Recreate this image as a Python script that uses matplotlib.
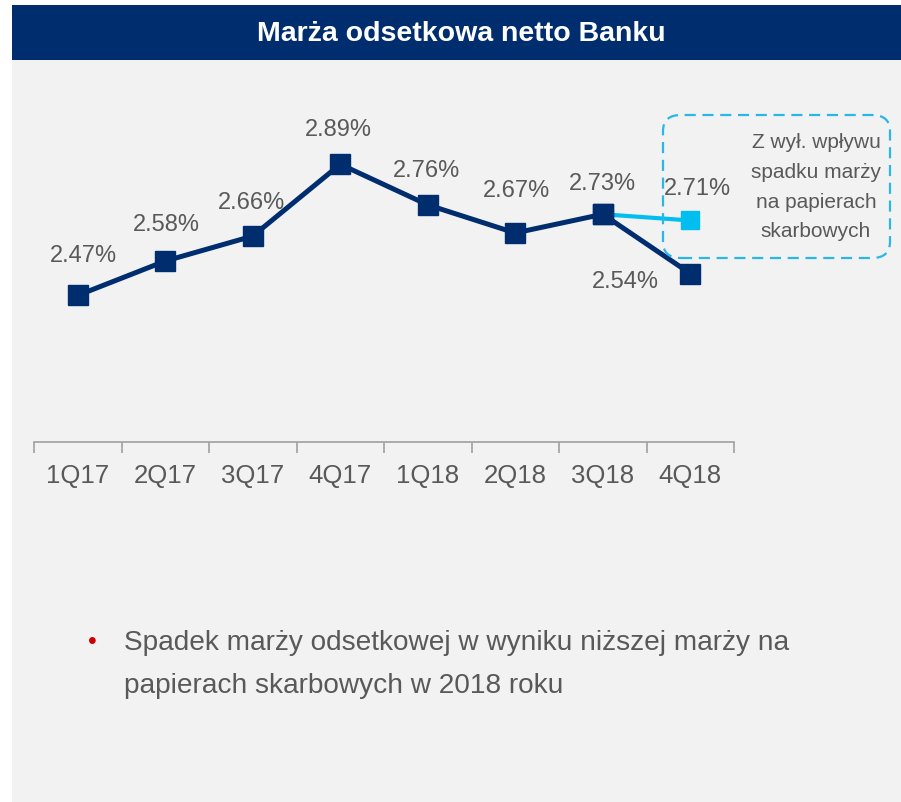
import matplotlib
matplotlib.use("Agg")
import matplotlib.pyplot as plt
from matplotlib.patches import Rectangle, FancyBboxPatch
from matplotlib.ticker import FixedLocator, NullFormatter

plt.rcParams['font.family'] = ['Liberation Sans', 'DejaVu Sans']

# ---- data ----
categories = ["1Q17", "2Q17", "3Q17", "4Q17", "1Q18", "2Q18", "3Q18", "4Q18"]
margin = [2.47, 2.58, 2.66, 2.89, 2.76, 2.67, 2.73, 2.54]
adj_categories = ["3Q18", "4Q18"]
adj_margin = [2.73, 2.71]
title = "Marża odsetkowa netto Banku"
box_lines = ["Z wył. wpływu", "spadku marży", "na papierach", "skarbowych"]
bullet_lines = ["Spadek marży odsetkowej w wyniku niższej marży na",
                "papierach skarbowych w 2018 roku"]

NAVY = "#002D6E"
LIGHT = "#00BEF0"
DASH = "#29B6E8"
GREY_TXT = "#595959"
PANEL = "#F2F2F2"

W, H = 901, 803
fig = plt.figure(figsize=(W / 100, H / 100), dpi=100)
fig.patch.set_facecolor("white")

def fx(px):
    return px / W

def fy(py):
    return 1 - py / H

# background panel and header
fig.add_artist(Rectangle((fx(12), fy(803)), fx(901) - fx(12), fy(61) - fy(803),
                         transform=fig.transFigure, facecolor=PANEL, edgecolor="none", zorder=0))
fig.add_artist(Rectangle((fx(12), fy(61)), fx(901) - fx(12), fy(6) - fy(61),
                         transform=fig.transFigure, facecolor=NAVY, edgecolor="none", zorder=0))
fig.text(fx(461), fy(34), title, color="white", fontsize=20.5, fontweight="bold",
         ha="center", va="center")

# axes
ax_left, ax_right, ax_bottom_px, ax_top_px = 34, 734, 443, 131
ax = fig.add_axes([fx(ax_left), fy(ax_bottom_px), fx(ax_right) - fx(ax_left),
                   fy(ax_top_px) - fy(ax_bottom_px)])
ax.set_facecolor("none")
x = list(range(len(categories)))
ax.set_xlim(-0.5, len(categories) - 0.5)
ax.set_ylim(2.0, 3.0)

ax.plot(x, margin, color=NAVY, lw=3.6, marker="s", ms=14.5, mfc=NAVY, mec=NAVY,
        solid_joinstyle="miter", zorder=4)
adj_x = [categories.index(c) for c in adj_categories]
ax.plot(adj_x, adj_margin, color=LIGHT, lw=3.0, marker="s", ms=13.5, mfc=LIGHT, mec=LIGHT,
        zorder=3)
# redraw 3Q18 navy marker on top
ax.plot([adj_x[0]], [margin[adj_x[0]]], ls="none", marker="s", ms=14.5, mfc=NAVY, mec=NAVY, zorder=5)

offsets = [(6, 40), (1, 37), (-1, 34), (-2, 35), (-1, 35), (1, 43), (0, 31), (-65, -7)]
for i, v in enumerate(margin):
    dx, dy = offsets[i]
    ax.annotate(f"{v:.2f}%", (i, v), xytext=(dx, dy), textcoords="offset pixels",
                ha="center", va="center", fontsize=17, color=GREY_TXT)
ax.annotate(f"{adj_margin[-1]:.2f}%", (adj_x[-1], adj_margin[-1]), xytext=(7, 32),
            textcoords="offset pixels", ha="center", va="center", fontsize=17, color=GREY_TXT)

for s in ["top", "right", "left"]:
    ax.spines[s].set_visible(False)
ax.spines["bottom"].set_color("#A6A6A6")
ax.spines["bottom"].set_linewidth(1.3)
ax.set_yticks([])
ax.set_xticks(x)
ax.set_xticklabels(categories, fontsize=18.5, color=GREY_TXT)
ax.tick_params(axis="x", which="major", length=0, pad=15)
ax.xaxis.set_minor_locator(FixedLocator([i - 0.5 for i in range(len(categories) + 1)]))
ax.xaxis.set_minor_formatter(NullFormatter())
ax.tick_params(axis="x", which="minor", length=8, width=1.3, color="#A6A6A6", direction="out")

# dashed rounded box annotation
box = FancyBboxPatch((fx(663), fy(259)), fx(890) - fx(663), fy(116) - fy(259),
                     boxstyle="round,pad=0,rounding_size=0.02",
                     transform=fig.transFigure, facecolor="none", edgecolor=DASH,
                     lw=1.6, ls=(0, (5, 3)), zorder=2)
fig.add_artist(box)
for j, line in enumerate(box_lines):
    fig.text(fx(816), fy(143 + j * 29.5), line, fontsize=15, color=GREY_TXT,
             ha="center", va="center")

# bullet
fig.text(fx(92), fy(642), "•", fontsize=18, color="#CC0000", ha="center", va="center")
for j, line in enumerate(bullet_lines):
    fig.text(fx(124), fy(643 + j * 43), line, fontsize=20.2, color=GREY_TXT,
             ha="left", va="center")

fig.savefig("out.png", dpi=100, facecolor=fig.get_facecolor())
